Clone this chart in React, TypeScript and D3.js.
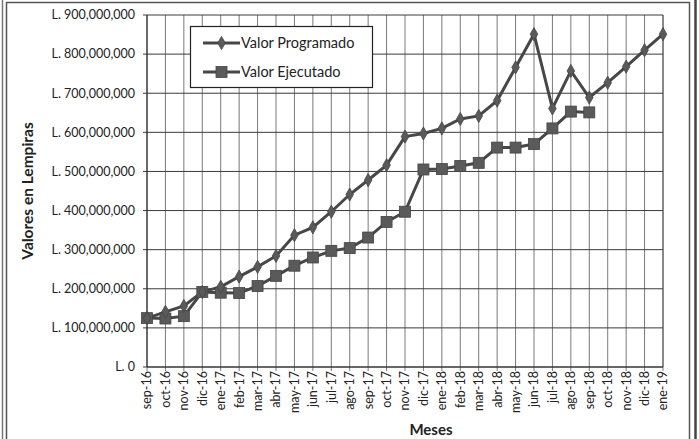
import React from "react";
import * as d3 from "d3";

const months = [
  "sep-16", "oct-16", "nov-16", "dic-16", "ene-17", "feb-17", "mar-17", "abr-17", "may-17", "jun-17",
  "jul-17", "ago-17", "sep-17", "oct-17", "nov-17", "dic-17", "ene-18", "feb-18", "mar-18", "abr-18",
  "may-18", "jun-18", "jul-18", "ago-18", "sep-18", "oct-18", "nov-18", "dic-18", "ene-19",
];

const programado = [
  125, 141, 156, 192, 205, 231, 256, 284, 337, 357,
  397, 441, 478, 516, 589, 597, 610, 634, 642, 681,
  766, 851, 661, 757, 689, 727, 768, 810, 851,
].map((v) => v * 1e6);

const ejecutado = [
  125, 124, 130, 192, 190, 189, 207, 233, 259, 280,
  297, 304, 331, 371, 397, 505, 506, 514, 522, 561,
  561, 570, 610, 653, 651,
].map((v) => v * 1e6);

const yTicks = [0, 1e8, 2e8, 3e8, 4e8, 5e8, 6e8, 7e8, 8e8, 9e8];

const W = 699;
const H = 439;
const left = 147;
const right = 663;
const top = 15;
const bottom = 367;
const font = "Lato, 'Open Sans', sans-serif";

const fmt = (v: number) => (v === 0 ? "L. 0" : "L. " + d3.format(",")(v));

export default function App() {
  const x = d3.scalePoint<string>().domain(months).range([left, right]);
  const y = d3.scaleLinear().domain([0, 9e8]).range([bottom, top]);

  const line = d3
    .line<number>()
    .x((_, i) => x(months[i]) as number)
    .y((d) => y(d));

  const lineColor = "#474747";
  const markerColor = "#5a5a5a";

  return (
    <svg
      width={W}
      height={H}
      style={{ position: "absolute", left: 0, top: 0, background: "#fff" }}
      fontFamily={font}
    >
      <rect x={0} y={0} width={W} height={H} fill="#fff" />
      {/* outer frame */}
      <rect x={6.5} y={2.5} width={683} height={H + 10} fill="none" stroke="#555" strokeWidth={1.5} />
      <line x1={2.5} y1={0} x2={2.5} y2={H} stroke="#777" strokeWidth={1.5} />
      <line x1={695.5} y1={0} x2={695.5} y2={H} stroke="#444" strokeWidth={2.5} />

      {/* vertical gridlines */}
      {months.map((m) => (
        <line
          key={"v" + m}
          x1={x(m)}
          x2={x(m)}
          y1={top}
          y2={bottom + 4}
          stroke="#7a7a7a"
          strokeWidth={1}
        />
      ))}
      {/* horizontal gridlines */}
      {yTicks.map((t) => (
        <line
          key={"h" + t}
          x1={left - 4}
          x2={right}
          y1={y(t)}
          y2={y(t)}
          stroke="#3a3a3a"
          strokeWidth={1}
        />
      ))}
      <line x1={right} x2={right} y1={top} y2={bottom} stroke="#555" strokeWidth={1} />
      <line x1={left} x2={left} y1={top} y2={bottom} stroke="#333" strokeWidth={1.2} />
      <line x1={left} x2={right} y1={bottom} y2={bottom} stroke="#333" strokeWidth={1.2} />

      {/* y tick labels */}
      {yTicks.map((t) => (
        <text
          key={"yt" + t}
          x={135}
          y={y(t)}
          dy="0.35em"
          textAnchor="end"
          fontSize={12.5}
          fill="#222"
        >
          {fmt(t)}
        </text>
      ))}

      {/* x tick labels */}
      {months.map((m) => (
        <text
          key={"xt" + m}
          transform={`translate(${x(m)}, 371) rotate(-90)`}
          textAnchor="end"
          dy="0.35em"
          fontSize={12.5}
          fill="#222"
        >
          {m}
        </text>
      ))}

      {/* axis titles */}
      <text
        transform={`translate(33, ${(top + bottom) / 2}) rotate(-90)`}
        textAnchor="middle"
        fontSize={15.5}
        fontWeight="bold"
        fill="#222"
      >
        Valores en Lempiras
      </text>
      <text x={431} y={435} textAnchor="middle" fontSize={15} fontWeight="bold" fill="#222">
        Meses
      </text>

      {/* series lines */}
      <path d={line(programado) || ""} fill="none" stroke={lineColor} strokeWidth={3} />
      <path d={line(ejecutado) || ""} fill="none" stroke={lineColor} strokeWidth={3} />

      {/* markers */}
      {ejecutado.map((v, i) => (
        <rect
          key={"e" + i}
          x={(x(months[i]) as number) - 5.5}
          y={y(v) - 5.5}
          width={11}
          height={11}
          fill={markerColor}
          stroke="#444"
          strokeWidth={0.8}
        />
      ))}
      {programado.map((v, i) => (
        <path
          key={"p" + i}
          d={d3.symbol(d3.symbolDiamond, 50)() || ""}
          transform={`translate(${x(months[i])}, ${y(v)})`}
          fill={markerColor}
          stroke="#444"
          strokeWidth={0.8}
        />
      ))}

      {/* legend */}
      <g>
        <rect x={190.5} y={26.5} width={182} height={61} fill="#fff" stroke="#222" strokeWidth={1.2} />
        <line x1={203} x2={240} y1={43} y2={43} stroke={lineColor} strokeWidth={3} />
        <path
          d={d3.symbol(d3.symbolDiamond, 50)() || ""}
          transform="translate(221.5, 43)"
          fill={markerColor}
          stroke="#444"
          strokeWidth={0.8}
        />
        <text x={241} y={43} dy="0.35em" fontSize={14.5} fill="#222">
          Valor Programado
        </text>
        <line x1={203} x2={240} y1={72} y2={72} stroke={lineColor} strokeWidth={3} />
        <rect x={216} y={66.5} width={11} height={11} fill={markerColor} stroke="#444" strokeWidth={0.8} />
        <text x={241} y={72} dy="0.35em" fontSize={14.5} fill="#222">
          Valor Ejecutado
        </text>
      </g>
    </svg>
  );
}
